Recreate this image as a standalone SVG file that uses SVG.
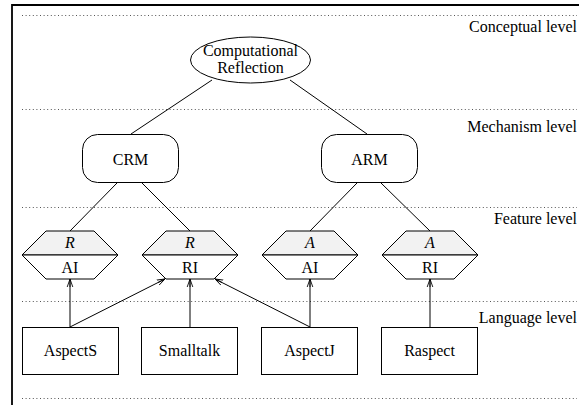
<svg xmlns="http://www.w3.org/2000/svg" width="579" height="405" viewBox="0 0 579 405">
<defs>
<style>
text{font-family:"Liberation Serif","Times New Roman",serif;font-size:16px;fill:#000}
.c{text-anchor:middle}
.r{text-anchor:end}
.i{font-style:italic}
.dot{stroke:#555;stroke-width:1;stroke-dasharray:1 2.6;fill:none}
.ln{stroke:#000;stroke-width:1;fill:none}
.box{fill:#fff;stroke:#000;stroke-width:1}
.top{fill:#f2f2f2;stroke:#000;stroke-width:1}
.bot{fill:#fff;stroke:#000;stroke-width:1}
</style>
<marker id="ah" viewBox="0 0 10 10" refX="10" refY="5" markerWidth="8" markerHeight="8" markerUnits="userSpaceOnUse" orient="auto">
<path d="M0,1.5 L10,5 L0,8.5 M10,5 L0,5" fill="none" stroke="#000" stroke-width="1.1"/>
</marker>
</defs>
<rect width="579" height="405" fill="#fff"/>
<path d="M12,405 V5 H579" fill="none" stroke="#000" stroke-width="1.8"/>
<g id="levels">
<line class="dot" x1="22" y1="15.5" x2="577" y2="15.5"/>
<line class="dot" x1="22" y1="109.5" x2="577" y2="109.5"/>
<line class="dot" x1="22" y1="207.5" x2="577" y2="207.5"/>
<line class="dot" x1="22" y1="301.5" x2="577" y2="301.5"/>
<line class="dot" x1="22" y1="398.5" x2="577" y2="398.5"/>
<text class="r" x="577" y="32">Conceptual level</text>
<text class="r" x="577" y="132">Mechanism level</text>
<text class="r" x="577" y="224">Feature level</text>
<text class="r" x="577" y="323">Language level</text>
</g>
<g id="connectors">
<line class="ln" x1="212" y1="80" x2="131" y2="134"/>
<line class="ln" x1="290" y1="80" x2="367" y2="134"/>
<line class="ln" x1="117" y1="183" x2="70" y2="231"/>
<line class="ln" x1="142" y1="183" x2="190" y2="231"/>
<line class="ln" x1="357" y1="183" x2="310" y2="231"/>
<line class="ln" x1="381" y1="183" x2="430" y2="231"/>
<line class="ln" x1="70" y1="327" x2="70" y2="279" marker-end="url(#ah)"/>
<line class="ln" x1="70" y1="327" x2="165" y2="279" marker-end="url(#ah)"/>
<line class="ln" x1="190" y1="327" x2="190" y2="279" marker-end="url(#ah)"/>
<line class="ln" x1="310" y1="327" x2="215" y2="279" marker-end="url(#ah)"/>
<line class="ln" x1="310" y1="327" x2="310" y2="279" marker-end="url(#ah)"/>
<line class="ln" x1="430" y1="327" x2="430" y2="279" marker-end="url(#ah)"/>
</g>
<g id="cr">
<ellipse cx="250.5" cy="60" rx="60" ry="23" fill="#fff" stroke="#000"/>
<text class="c" x="250.5" y="56">Computational</text>
<text class="c" x="250.5" y="73">Reflection</text>
</g>
<g id="crm">
<rect class="box" x="82.5" y="134.5" width="96" height="48" rx="15"/>
<text class="c" x="130.5" y="165">CRM</text>
</g>
<g id="arm">
<rect class="box" x="321.5" y="134.5" width="96" height="48" rx="15"/>
<text class="c" x="369.5" y="165">ARM</text>
</g>
<g id="r-ai">
<path class="top" d="M22,255 L46,231 H94 L118,255 Z"/>
<path class="bot" d="M22,255 L46,279 H94 L118,255 Z"/>
<text class="c i" x="70" y="248">R</text>
<text class="c" x="70" y="273">AI</text>
</g>
<g id="r-ri">
<path class="top" d="M142,255 L166,231 H214 L238,255 Z"/>
<path class="bot" d="M142,255 L166,279 H214 L238,255 Z"/>
<text class="c i" x="190" y="248">R</text>
<text class="c" x="190" y="273">RI</text>
</g>
<g id="a-ai">
<path class="top" d="M262,255 L286,231 H334 L358,255 Z"/>
<path class="bot" d="M262,255 L286,279 H334 L358,255 Z"/>
<text class="c i" x="310" y="248">A</text>
<text class="c" x="310" y="273">AI</text>
</g>
<g id="a-ri">
<path class="top" d="M382,255 L406,231 H454 L478,255 Z"/>
<path class="bot" d="M382,255 L406,279 H454 L478,255 Z"/>
<text class="c i" x="430" y="248">A</text>
<text class="c" x="430" y="273">RI</text>
</g>
<g id="aspects">
<rect class="box" x="22.5" y="327.5" width="96" height="47"/>
<text class="c" x="70.5" y="356">AspectS</text>
</g>
<g id="smalltalk">
<rect class="box" x="141.5" y="327.5" width="96" height="47"/>
<text class="c" x="189.5" y="356">Smalltalk</text>
</g>
<g id="aspectj">
<rect class="box" x="261.5" y="327.5" width="96" height="47"/>
<text class="c" x="309.5" y="356">AspectJ</text>
</g>
<g id="raspect">
<rect class="box" x="381.5" y="327.5" width="96" height="47"/>
<text class="c" x="429.5" y="356">Raspect</text>
</g>
</svg>
